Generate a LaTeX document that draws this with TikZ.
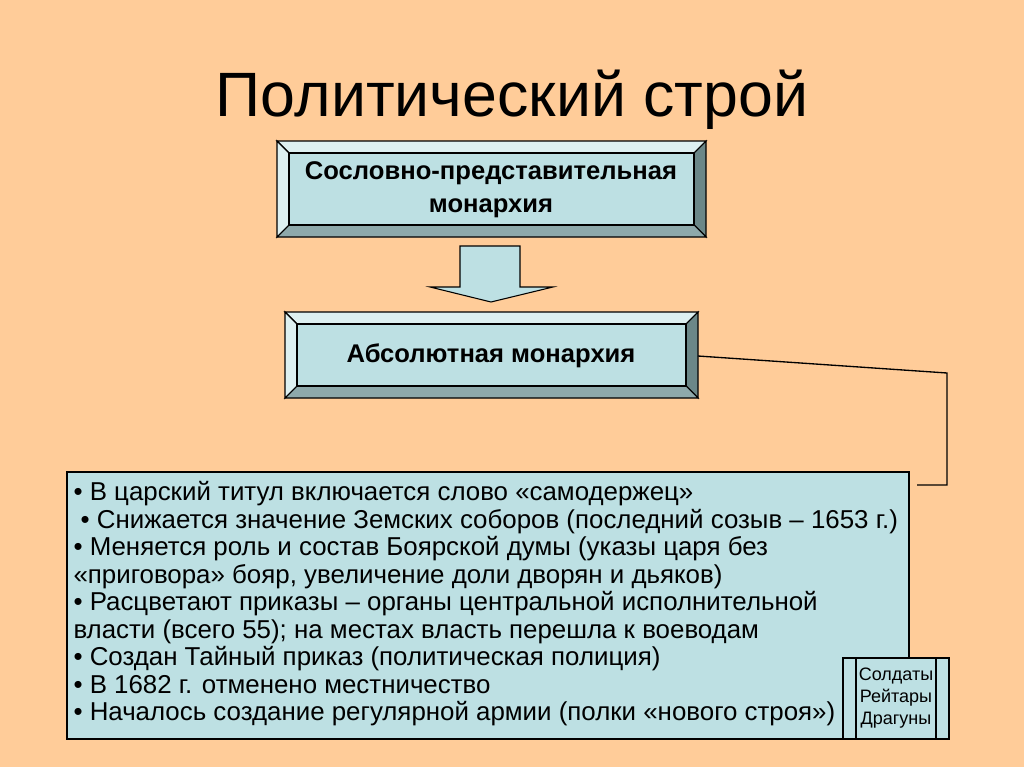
\documentclass[tikz,border=0pt]{standalone}
\usepackage{fontspec}
\setmainfont{Liberation Sans}
\definecolor{bg}{HTML}{FFCC99}
\definecolor{boxc}{HTML}{BDE0E3}
\definecolor{bevL}{HTML}{DDF0F1}
\definecolor{bevB}{HTML}{8EA9AB}
\definecolor{bevR}{HTML}{6B8788}
\begin{document}
\begin{tikzpicture}[x=0.75pt,y=-0.75pt,line width=0.8pt,
  txt/.style={inner sep=0pt,align=center,font=\bfseries\fontsize{19.2}{23}\selectfont}]
\useasboundingbox (0,0) rectangle (1024,767);
\fill[bg] (0,0) rectangle (1024,767);
\node[inner sep=0pt,font=\fontsize{47}{50}\selectfont] (title) at (512,100) {Политический строй};
% bevel boxes
\newcommand\bevbox[5]{%
 \fill[boxc] (#1,#2) rectangle (#3,#4);
 \filldraw[fill=bevL] (#1,#2)--(#3,#2)--(#3-#5,#2+#5)--(#1+#5,#2+#5)--cycle;
 \filldraw[fill=bevL] (#1,#2)--(#1+#5,#2+#5)--(#1+#5,#4-#5)--(#1,#4)--cycle;
 \filldraw[fill=bevR] (#3,#2)--(#3,#4)--(#3-#5,#4-#5)--(#3-#5,#2+#5)--cycle;
 \filldraw[fill=bevB] (#1,#4)--(#3,#4)--(#3-#5,#4-#5)--(#1+#5,#4-#5)--cycle;
 \draw (#1+#5,#2+#5) rectangle (#3-#5,#4-#5);}
\bevbox{277}{141}{706}{237}{12}
\node[txt] (b1) at (491,190) {Сословно-представительная\\[2pt]монархия};
\bevbox{285}{312}{698}{398}{12}
\node[txt] (b2) at (491,356) {Абсолютная монархия};
% arrow
\filldraw[fill=boxc] (460,246)--(520,246)--(520,287)--(553,287)--(491,302)--(430,287)--(460,287)--cycle;
% main box
\node[draw,fill=boxc,minimum width=842*0.75pt,minimum height=267*0.75pt,inner sep=0pt] (main) at (488,605.5) {};
\node[anchor=north west,inner sep=0pt,align=left,font=\fontsize{19.4}{20.6}\selectfont] (list) at (73,481) {%
• В царский титул включается слово «самодержец»\\
\ • Снижается значение Земских соборов (последний созыв – 1653 г.)\\
• Меняется роль и состав Боярской думы (указы царя без\\
«приговора» бояр, увеличение доли дворян и дьяков)\\
• Расцветают приказы – органы центральной исполнительной\\
власти (всего 55); на местах власть перешла к воеводам\\
• Создан Тайный приказ (политическая полиция)\\
• В 1682 г. отменено местничество\\
• Началось создание регулярной армии (полки «нового строя»)};
% small box
\node[draw,fill=boxc,minimum width=106*0.75pt,minimum height=81*0.75pt,inner sep=0pt] (small) at (896,698.5) {};
\draw (856,658)--(856,739) (936,658)--(936,739);
\node[inner sep=0pt,align=center,font=\fontsize{13.5}{16.5}\selectfont] (army) at (896,698) {Солдаты\\Рейтары\\Драгуны};
% connector
\coordinate (c1) at (947,373);
\coordinate (c2) at (947,485);
\coordinate (c3) at (917,485);
\draw[line width=1pt] (b2.east -| 698,355) -- (c1) -- (c2) -- (c3);
\end{tikzpicture}
\end{document}
